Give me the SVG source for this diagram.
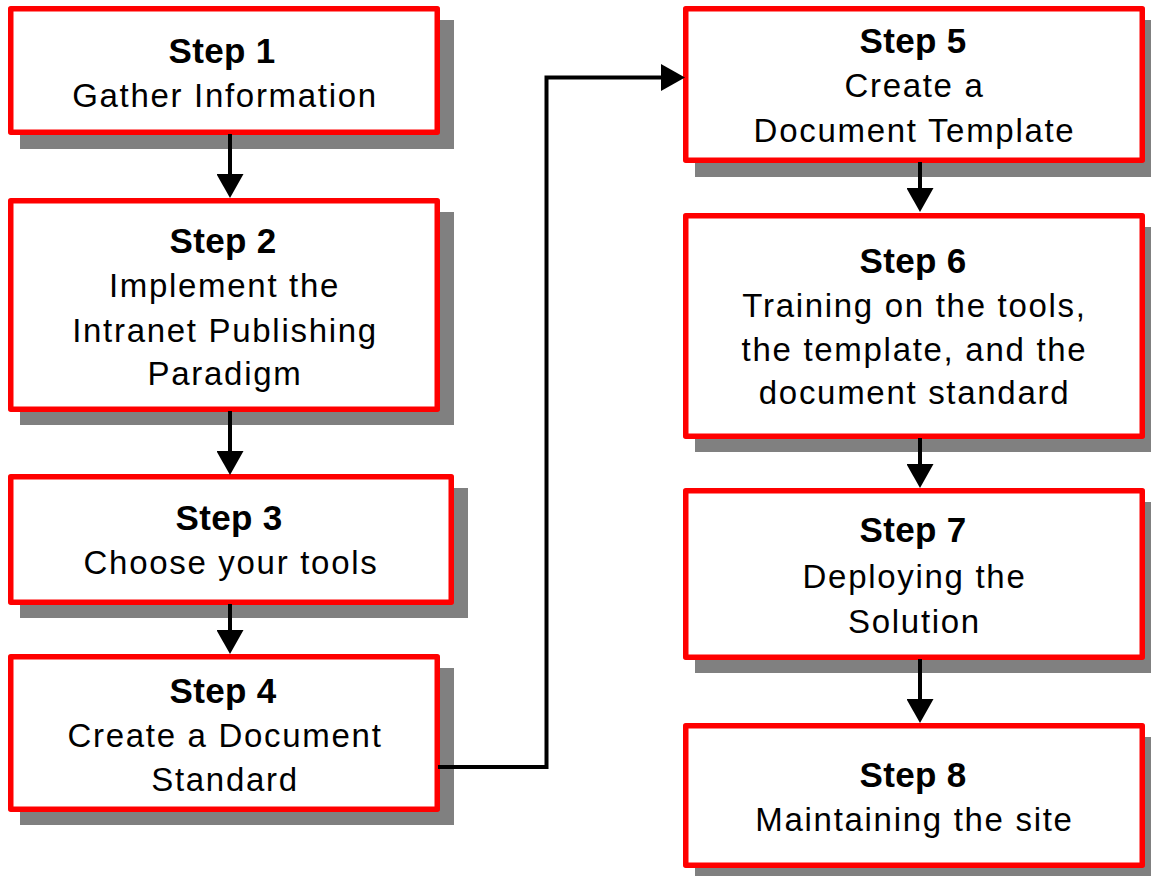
<svg xmlns="http://www.w3.org/2000/svg" width="1151" height="876" viewBox="0 0 1151 876">
  <style>
    .shadow { fill: #808080; }
    .box { fill: #ffffff; stroke: #ff0000; stroke-width: 5.5; stroke-linejoin: round; }
    .title { font-family: "Liberation Sans", Arial, sans-serif; font-size: 35px; font-weight: bold; fill: #000; text-anchor: middle; letter-spacing: 0.3px; }
    .label { font-family: "Liberation Sans", Arial, sans-serif; font-size: 33px; fill: #000; text-anchor: middle; letter-spacing: 1.7px; }
    .link { fill: none; stroke: #000; stroke-width: 4; }
  </style>
  <defs>
    <marker id="head" markerUnits="userSpaceOnUse" markerWidth="24" markerHeight="27" viewBox="0 0 24 27" refX="16" refY="13.5" orient="auto">
      <path d="M0 0 L24 13.5 L0 27 Z" fill="#000"/>
    </marker>
  </defs>

  <rect width="1151" height="876" fill="#ffffff"/>

  <g id="step1">
    <rect class="shadow" x="20" y="20" width="434" height="129"/>
    <rect class="box" x="10.75" y="8.75" width="426.5" height="123.5"/>
    <text class="title" x="222" y="63">Step 1</text>
    <text class="label" x="225" y="107">Gather Information</text>
  </g>

  <g id="step2">
    <rect class="shadow" x="20" y="212" width="434" height="213"/>
    <rect class="box" x="10.75" y="200.75" width="426.5" height="208.5"/>
    <text class="title" x="223" y="253">Step 2</text>
    <text class="label" x="224.5" y="297">Implement the</text>
    <text class="label" x="225" y="342">Intranet Publishing</text>
    <text class="label" x="225" y="385">Paradigm</text>
  </g>

  <g id="step3">
    <rect class="shadow" x="20" y="488" width="448" height="130"/>
    <rect class="box" x="10.75" y="476.75" width="440.5" height="125.5"/>
    <text class="title" x="229" y="530">Step 3</text>
    <text class="label" x="231" y="574">Choose your tools</text>
  </g>

  <g id="step4">
    <rect class="shadow" x="20" y="668" width="434" height="157"/>
    <rect class="box" x="10.75" y="656.75" width="426.5" height="152.5"/>
    <text class="title" x="223" y="703">Step 4</text>
    <text class="label" x="225" y="747">Create a Document</text>
    <text class="label" x="225" y="791">Standard</text>
  </g>

  <g id="step5">
    <rect class="shadow" x="695" y="20" width="464" height="157"/>
    <rect class="box" x="685.75" y="8.75" width="456.5" height="151.5"/>
    <text class="title" x="913" y="53">Step 5</text>
    <text class="label" x="914.5" y="97">Create a</text>
    <text class="label" x="914.5" y="142">Document Template</text>
  </g>

  <g id="step6">
    <rect class="shadow" x="695" y="227" width="464" height="225"/>
    <rect class="box" x="685.75" y="215.75" width="456.5" height="220.5"/>
    <text class="title" x="913" y="273">Step 6</text>
    <text class="label" x="914.5" y="317">Training on the tools,</text>
    <text class="label" x="914.5" y="361">the template, and the</text>
    <text class="label" x="914.5" y="404">document standard</text>
  </g>

  <g id="step7">
    <rect class="shadow" x="695" y="502" width="464" height="171"/>
    <rect class="box" x="685.75" y="490.75" width="456.5" height="166.5"/>
    <text class="title" x="913" y="542">Step 7</text>
    <text class="label" x="914.5" y="588">Deploying the</text>
    <text class="label" x="914.5" y="633">Solution</text>
  </g>

  <g id="step8">
    <rect class="shadow" x="695" y="737" width="464" height="145"/>
    <rect class="box" x="685.75" y="725.75" width="456.5" height="139.5"/>
    <text class="title" x="913" y="787">Step 8</text>
    <text class="label" x="914.5" y="831">Maintaining the site</text>
  </g>

  <g id="connectors">
    <path class="link" d="M230 134 V190" marker-end="url(#head)"/>
    <path class="link" d="M230 411 V467" marker-end="url(#head)"/>
    <path class="link" d="M230 604 V646" marker-end="url(#head)"/>
    <path class="link" d="M438 767 H546.5 V77.5 H677" marker-end="url(#head)"/>
    <path class="link" d="M920 162 V204" marker-end="url(#head)"/>
    <path class="link" d="M920 438 V480" marker-end="url(#head)"/>
    <path class="link" d="M920 659 V715" marker-end="url(#head)"/>
  </g>
</svg>
